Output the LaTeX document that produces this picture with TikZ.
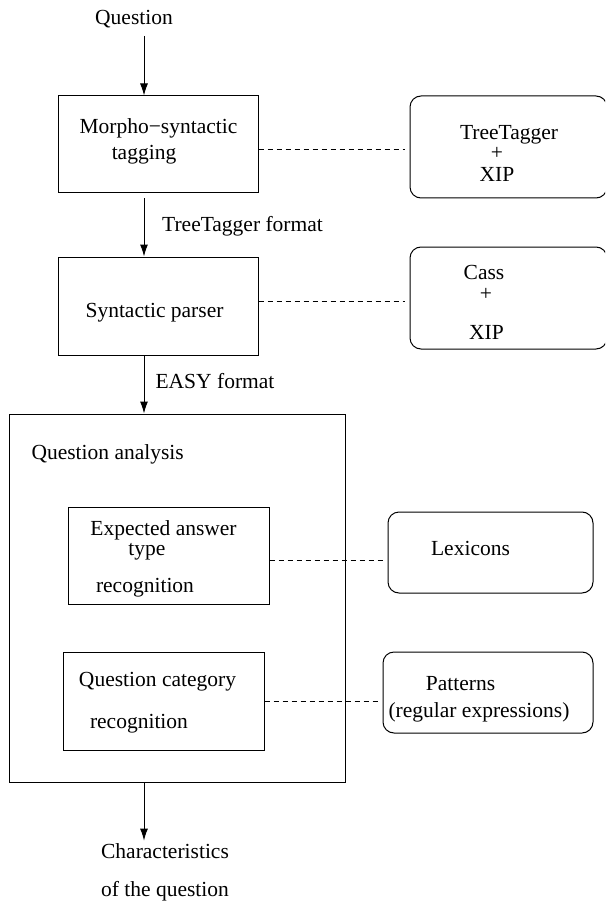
\documentclass[tikz,border=0pt]{standalone}
\usepackage{fontspec}
\setmainfont{Liberation Serif}
\usetikzlibrary{arrows.meta}

\begin{document}
\begin{tikzpicture}[x=1pt,y=-1pt,line width=1pt,
    every node/.style={font=\fontsize{21.5pt}{26pt}\selectfont},
    box/.style={draw,inner sep=0pt},
    tool/.style={draw,rounded corners=11pt,inner sep=0pt},
    txt/.style={anchor=base,inner sep=0pt},
    arr/.style={-{Latex[length=12pt,width=8pt]}},
    link/.style={dash pattern=on 5pt off 4pt,line width=.8pt,shorten >=5pt}]
    \clip (0,0) rectangle (605,901);
    % processing chain
    \node[box,minimum width=200pt,minimum height=97pt] (tag) at (158,144.5) {};
    \node[box,minimum width=200pt,minimum height=98pt] (parse) at (158,306) {};
    \node[box,minimum width=336pt,minimum height=368pt] (qa) at (177,598) {};
    \node[box,minimum width=201pt,minimum height=97pt] (ear) at (168.5,555.5) {};
    \node[box,minimum width=201pt,minimum height=98pt] (qcr) at (163.5,701) {};
    % tools
    \node[tool,minimum width=197pt,minimum height=102pt] (ttx) at (508.5,147) {};
    \node[tool,minimum width=197pt,minimum height=102pt] (cass) at (508.5,298) {};
    \node[tool,minimum width=205pt,minimum height=81pt] (lex) at (490.5,552.5) {};
    \node[tool,minimum width=210pt,minimum height=81pt] (pat) at (488,692.5) {};
    % texts
    \node[txt] (qin) at (134,25) {Question};
    \node[txt] (tag1) at (158.5,134) {Morpho−syntactic};
    \node[txt] (tag2) at (144,160) {tagging};
    \node[txt] (ttx1) at (509,140) {TreeTagger};
    \node[txt] (ttx2) at (497,160) {+};
    \node[txt] (ttx3) at (497,182) {XIP};
    \node[txt] (fmt1) at (242.5,231) {TreeTagger format};
    \node[txt] (parse1) at (154.5,317) {Syntactic parser};
    \node[txt] (cass1) at (484,279) {Cass};
    \node[txt] (cass2) at (486,300.5) {+};
    \node[txt] (cass3) at (486.5,339) {XIP};
    \node[txt] (fmt2) at (215,388) {EASY format};
    \node[txt,anchor=base west] (qa1) at (31,459) {Question analysis};
    \node[txt] (ear1) at (163.5,535) {Expected answer};
    \node[txt] (ear2) at (147,555) {type};
    \node[txt] (ear3) at (145,592.5) {recognition};
    \node[txt] (qcr1) at (157.5,686) {Question category};
    \node[txt] (qcr2) at (139,728) {recognition};
    \node[txt] (lex1) at (470.5,555) {Lexicons};
    \node[txt] (pat1) at (460.5,690) {Patterns};
    \node[txt] (pat2) at (479,717) {(regular expressions)};
    \node[txt] (out1) at (165,858) {Characteristics};
    \node[txt] (out2) at (165,896) {of the question};
    % arrows along the chain
    \coordinate (spine) at (144,0);
    \draw[arr,shorten <=7pt] (qin.south -| spine) -- (tag.north -| spine);
    \draw[arr,shorten <=5pt] (tag.south -| spine) -- (parse.north -| spine);
    \draw[arr] (parse.south -| spine) -- (qa.north -| spine);
    \draw[arr,shorten >=2pt] (qa.south -| spine) -- (out1.north -| spine);
    % dashed links to the tools
    \coordinate (l1) at (0,149);
    \coordinate (l2) at (0,301);
    \coordinate (l3) at (0,560);
    \coordinate (l4) at (0,701);
    \draw[link] (tag.east |- l1) -- (ttx.west |- l1);
    \draw[link] (parse.east |- l2) -- (cass.west |- l2);
    \draw[link] (ear.east |- l3) -- (lex.west |- l3);
    \draw[link] (qcr.east |- l4) -- (pat.west |- l4);
\end{tikzpicture}
\end{document}
